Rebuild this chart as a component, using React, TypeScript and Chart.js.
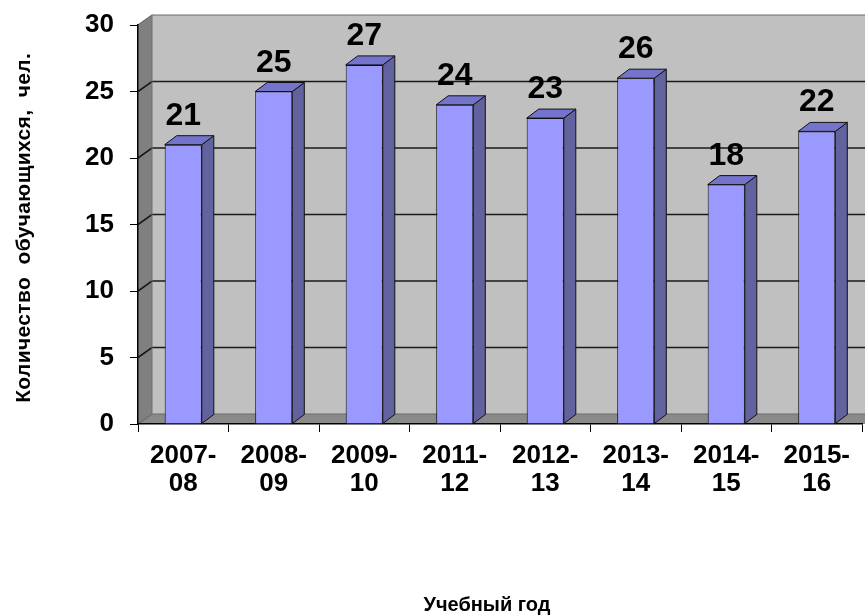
import React, { useEffect, useRef } from "react";
import { Chart, registerables } from "chart.js";

Chart.register(...registerables);

const categories: string[][] = [
  ["2007-", "08"],
  ["2008-", "09"],
  ["2009-", "10"],
  ["2011-", "12"],
  ["2012-", "13"],
  ["2013-", "14"],
  ["2014-", "15"],
  ["2015-", "16"],
];
const students: number[] = [21, 25, 27, 24, 23, 26, 18, 22];
const yMin = 0;
const yMax = 30;
const yStep = 5;
const yTitle = "Количество  обучающихся,  чел.";
const xTitle = "Учебный год";

const FONT = '"Liberation Sans", Arial, sans-serif';
const WX = 14, WY = -10; // wall depth
const BX = 12, BY = -9; // bar depth

function poly(ctx: CanvasRenderingContext2D, pts: number[][], fill: string, stroke?: string, lw = 1) {
  ctx.beginPath();
  ctx.moveTo(pts[0][0], pts[0][1]);
  for (let i = 1; i < pts.length; i++) ctx.lineTo(pts[i][0], pts[i][1]);
  ctx.closePath();
  ctx.fillStyle = fill;
  ctx.fill();
  if (stroke) {
    ctx.strokeStyle = stroke;
    ctx.lineWidth = lw;
    ctx.stroke();
  }
}

function drawFit(ctx: CanvasRenderingContext2D, text: string, targetW: number) {
  (ctx as any).letterSpacing = "0px";
  const w = ctx.measureText(text).width;
  const sp = Math.max(0, (targetW - w) / text.length);
  (ctx as any).letterSpacing = sp + "px";
  ctx.fillText(text, sp / 2, 0);
  (ctx as any).letterSpacing = "0px";
}

const wallsPlugin = {
  id: "walls3d",
  beforeDraw(chart: any) {
    const { ctx, chartArea: a } = chart;
    const y = chart.scales.y;
    ctx.save();
    ctx.fillStyle = "#c0c0c0";
    ctx.fillRect(a.left + WX, a.top + WY, a.right - a.left + 20, a.bottom - a.top);
    poly(ctx, [[a.left, a.top], [a.left + WX, a.top + WY], [a.left + WX, a.bottom + WY], [a.left, a.bottom]], "#808080");
    poly(ctx, [[a.left, a.bottom], [a.left + WX, a.bottom + WY], [a.right + WX + 20, a.bottom + WY], [a.right + 20, a.bottom]], "#8a8a8a");
    y.ticks.forEach((t: any) => {
      const py = y.getPixelForValue(t.value);
      ctx.beginPath();
      ctx.moveTo(a.left, py);
      ctx.lineTo(a.left + WX, py + WY);
      ctx.lineTo(a.right + WX + 20, py + WY);
      const edge = t.value === yMax || t.value === yMin;
      ctx.strokeStyle = edge ? "#6a6a6a" : "#1a1a1a";
      ctx.lineWidth = edge ? 1.2 : 1.6;
      ctx.stroke();
    });
    ctx.beginPath();
    ctx.moveTo(a.left + WX, a.top + WY);
    ctx.lineTo(a.left + WX, a.bottom + WY);
    ctx.strokeStyle = "#707070";
    ctx.lineWidth = 1;
    ctx.stroke();
    ctx.restore();
  },
  afterDatasetsDraw(chart: any) {
    const { ctx } = chart;
    const meta = chart.getDatasetMeta(0);
    ctx.save();
    ctx.lineJoin = "miter";
    meta.data.forEach((bar: any, i: number) => {
      const { x, y, base, width } = bar.getProps(["x", "y", "base", "width"], true);
      const l = x - width / 2, r = x + width / 2;
      poly(ctx, [[r, y], [r + BX, y + BY], [r + BX, base + BY], [r, base]], "#62629e", "#111", 1);
      poly(ctx, [[l, y], [l + BX, y + BY], [r + BX, y + BY], [r, y]], "#7474cc", "#111", 1);
      ctx.fillStyle = "#000";
      ctx.font = `bold 32px ${FONT}`;
      ctx.textAlign = "center";
      ctx.textBaseline = "alphabetic";
      ctx.fillText(String(students[i]), x, y - 20);
    });
    ctx.restore();
  },
  afterDraw(chart: any) {
    const { ctx } = chart;
    ctx.save();
    ctx.fillStyle = "#000";
    ctx.textAlign = "center";
    ctx.textBaseline = "alphabetic";
    ctx.save();
    ctx.translate(30, 228);
    ctx.rotate(-Math.PI / 2);
    ctx.font = `bold 21px ${FONT}`;
    drawFit(ctx, yTitle, 350);
    ctx.restore();
    ctx.save();
    ctx.translate(487, 611);
    ctx.font = `bold 20px ${FONT}`;
    drawFit(ctx, xTitle, 124);
    ctx.restore();
    ctx.restore();
  },
};

export default function App() {
  const ref = useRef<HTMLCanvasElement>(null);
  useEffect(() => {
    if (!ref.current) return;
    const chart = new Chart(ref.current, {
      type: "bar",
      data: {
        labels: categories,
        datasets: [
          {
            data: students,
            backgroundColor: "#9999ff",
            borderColor: "#111",
            borderWidth: 1,
            barPercentage: 0.41,
            categoryPercentage: 1,
          },
        ],
      },
      options: {
        responsive: false,
        animation: false,
        events: [],
        layout: { padding: { left: 0, right: 3, top: 25, bottom: 0 } },
        plugins: { legend: { display: false }, tooltip: { enabled: false }, title: { display: false } },
        scales: {
          x: {
            grid: { drawOnChartArea: false, drawTicks: true, tickLength: 8, tickColor: "#000", offset: true },
            border: { display: true, color: "#000", width: 1.5 },
            ticks: {
              color: "#000",
              font: { family: FONT, size: 26, weight: "bold", lineHeight: 28 / 26 },
              padding: 10,
              maxRotation: 0,
              autoSkip: false,
            },
            afterFit: (s: any) => { s.height = 616 - 424; },
          },
          y: {
            min: yMin,
            max: yMax,
            grid: { drawOnChartArea: false, drawTicks: true, tickLength: 8, tickColor: "#000" },
            border: { display: true, color: "#000", width: 1.5 },
            ticks: {
              stepSize: yStep,
              color: "#000",
              font: { family: FONT, size: 26, weight: "bold" },
              padding: 16,
            },
            afterFit: (s: any) => { s.width = 138; s.paddingTop = 0; s.paddingBottom = 0; },
          },
        },
      },
      plugins: [wallsPlugin],
    });
    return () => chart.destroy();
  }, []);
  return (
    <div style={{ position: "absolute", left: 0, top: 0, width: 865, height: 616, background: "#fff" }}>
      <canvas ref={ref} width={865} height={616} />
    </div>
  );
}
